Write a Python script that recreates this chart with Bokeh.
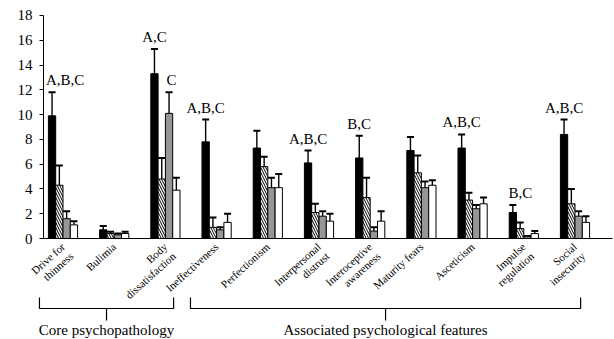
from bokeh.plotting import figure
from bokeh.models import ColumnDataSource, Range1d, Whisker, TeeHead, FixedTicker, LinearAxis
from bokeh.core.properties import value
from bokeh.embed import file_html
from bokeh.resources import INLINE

# ---------------- data ----------------
categories = ["Drive for\nthinness", "Bulimia", "Body\ndissatisfaction", "Ineffectiveness",
              "Perfectionism", "Interpersonal\ndistrust", "Interoceptive\nawareness",
              "Maturity fears", "Asceticism", "Impulse\nregulation", "Social\ninsecurity"]

black_vals = [9.9, 0.7, 13.3, 7.8, 7.3, 6.1, 6.5, 7.1, 7.3, 2.1, 8.4]
black_errs = [11.8, 1.0, 15.3, 9.6, 8.7, 7.1, 8.3, 8.2, 8.4, 2.7, 9.6]
hatch_vals = [4.3, 0.4, 4.8, 0.9, 5.8, 2.1, 3.3, 5.3, 3.1, 0.8, 2.8]
hatch_errs = [5.9, 0.55, 6.5, 1.7, 6.6, 2.8, 4.9, 6.7, 3.7, 1.3, 4.0]
gray_vals = [1.6, 0.3, 10.1, 0.7, 4.1, 1.8, 0.6, 4.1, 2.4, 0.15, 1.8]
gray_errs = [2.2, 0.4, 11.8, 0.9, 4.9, 2.2, 0.9, 4.6, 2.7, 0.2, 2.2]
white_vals = [1.1, 0.4, 3.9, 1.3, 4.1, 1.4, 1.4, 4.3, 2.8, 0.4, 1.3]
white_errs = [1.4, 0.55, 4.9, 2.0, 5.2, 2.0, 2.2, 4.7, 3.3, 0.6, 1.8]

y_ticks = [0, 2, 4, 6, 8, 10, 12, 14, 16, 18]

# significance labels: (category index, text, bar index)
sig_cat = [0, 2, 2, 3, 5, 6, 8, 9, 10]
sig_text = ["A,B,C", "A,C", "C", "A,B,C", "A,B,C", "B,C", "A,B,C", "B,C", "A,B,C"]
sig_bar = [0, 0, 2, 0, 0, 0, 0, 0, 0]
sig_nudge_px = [13, 0, 2.5, 0, 0, 0, 0, 7.5, 0]

group_names = ["Core psychopathology", "Associated psychological features"]
group_first = [0, 3]
group_last = [2, 10]

# ---------------- layout constants ----------------
W, H = 614, 339
PX_X = 51.2          # px per category
PX_Y = 12.39         # px per unit
ZERO_Y = 238         # screen y of value 0
x_start = -62.5 / PX_X
x_end = x_start + W / PX_X
y_end = ZERO_Y / PX_Y
y_start = y_end - H / PX_Y
axis_x = (43 - 62.5) / PX_X
axis_x_end = (612 - 62.5) / PX_X


def py(px):
    return (ZERO_Y - px) / PX_Y


bar_w = 0.1426
offsets = [-1.5 * bar_w, -0.5 * bar_w, 0.5 * bar_w, 1.5 * bar_w]

FONT = "Liberation Serif"

p = figure(width=W, height=H, x_range=Range1d(x_start, x_end), y_range=Range1d(y_start, y_end),
           output_backend="svg", toolbar_location=None, min_border=0,
           x_axis_location=None, y_axis_location=None)
p.outline_line_color = None
p.xgrid.visible = False
p.ygrid.visible = False
p.background_fill_color = "white"

# y axis
yax = LinearAxis(ticker=FixedTicker(ticks=y_ticks), bounds=(0, 18), fixed_location=axis_x)
yax.axis_line_color = "black"
yax.major_tick_line_color = "black"
yax.major_tick_out = 4
yax.major_tick_in = 0
yax.minor_tick_line_color = None
yax.major_label_text_font = FONT
yax.major_label_text_font_size = "15px"
yax.major_label_text_color = "black"
yax.major_label_standoff = 7
p.add_layout(yax, "left")

# x axis baseline
p.segment(x0=[axis_x], y0=[0], x1=[axis_x_end], y1=[0], line_color="black", line_width=1.2)

idx = list(range(len(categories)))
series = [
    (black_vals, black_errs, dict(fill_color="black")),
    (hatch_vals, hatch_errs, dict(fill_color="white", hatch_pattern="\\", hatch_color="black",
                                  hatch_scale=5, hatch_weight=1)),
    (gray_vals, gray_errs, dict(fill_color="#969696")),
    (white_vals, white_errs, dict(fill_color="white")),
]

for k, (vals, errs, style) in enumerate(series):
    xs = [i + offsets[k] for i in idx]
    src = ColumnDataSource(dict(x=xs, top=vals, err=errs))
    p.add_layout(Whisker(source=src, base="x", lower="top", upper="err",
                         line_color="black", line_width=1.4,
                         upper_head=TeeHead(size=7, line_color="black", line_width=2),
                         lower_head=None, level="underlay"))
    p.vbar(x="x", top="top", bottom=0, width=bar_w, source=src,
           line_color="black", line_width=1, **style)

# significance labels
all_errs = [black_errs, hatch_errs, gray_errs, white_errs]
sx = [sig_cat[j] + offsets[sig_bar[j]] + sig_nudge_px[j] / PX_X for j in range(len(sig_cat))]
sy = [all_errs[sig_bar[j]][sig_cat[j]] + 12 / PX_Y for j in range(len(sig_cat))]
p.text(x=sx, y=sy, text=sig_text, text_align="center", text_baseline="alphabetic",
       text_font=value(FONT), text_font_size="15px", text_color="black")

# category labels
p.text(x=[i - 4 / PX_X for i in idx], y=[py(240)] * len(idx), text=categories,
       angle=42, angle_units="deg", text_align="right", text_baseline="top",
       text_font=value(FONT), text_font_size="11px", text_color="black",
       text_line_height=1.05)

# brackets
pad_l = [-0.46, -0.51]
pad_r = [0.16, 0.11]
b_top = py(297)
b_mid = py(308)
b_tick = py(320)
t_base = py(329)
bxs, bys, cx = [], [], []
for g in range(len(group_names)):
    l = group_first[g] + pad_l[g]
    r = group_last[g] + pad_r[g]
    bxs.append([l, l, r, r])
    bys.append([b_top, b_mid, b_mid, b_top])
    cx.append((l + r) / 2)
p.multi_line(xs=bxs, ys=bys, line_color="black", line_width=1.2)
p.segment(x0=cx, y0=[b_mid] * 2, x1=cx, y1=[b_tick] * 2, line_color="black", line_width=1.2)
p.text(x=cx, y=[t_base] * 2, text=group_names, text_align="center", text_baseline="alphabetic",
       text_font=value(FONT), text_font_size="15px", text_color="black")

open("out.html", "w").write(file_html(p, INLINE))
